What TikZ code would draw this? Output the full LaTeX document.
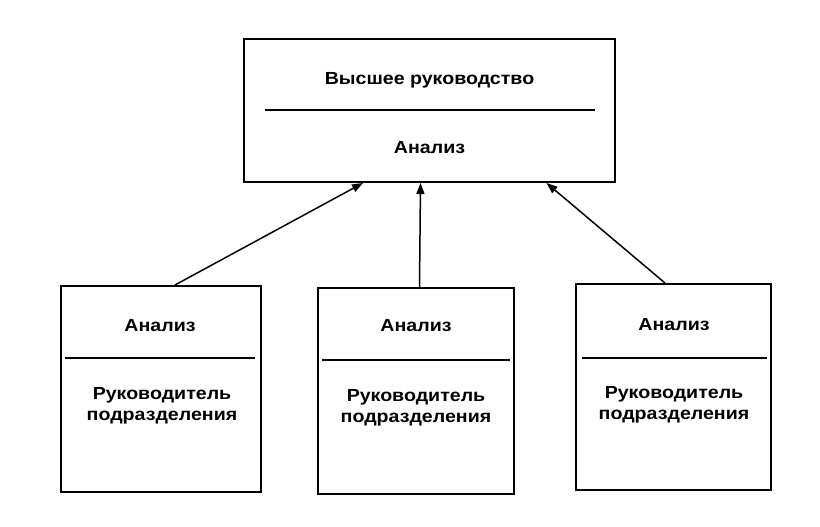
\documentclass[tikz,border=0pt]{standalone}
\usepackage{fontspec}
\setmainfont{Liberation Sans}[FakeStretch=1.12]
\usetikzlibrary{arrows.meta}

\tikzset{
  unitbox/.style={draw, line width=2pt, inner sep=0pt},
  boxtext/.style={font=\bfseries\fontsize{17.5}{20.7}\selectfont, align=center, inner sep=0pt},
  divider/.style={line width=2pt},
  report/.style={line width=1.5pt, -{Triangle[length=11pt,width=8pt]}}
}

\begin{document}
\begin{tikzpicture}[x=1pt, y=1pt]
  \useasboundingbox[fill=white] (0, 0) rectangle (820, 527);

  % upper box
  \node[unitbox, minimum width=371pt, minimum height=143pt] (top) at (429.5, 416.5) {};
  \node[boxtext] (topname) at (429.5, 447) {Высшее руководство};
  \node[boxtext] (topanalysis) at (429.5, 379) {Анализ};
  \draw[divider] (265, 417) -- (595, 417);

  % lower boxes
  \node[unitbox, minimum width=200pt, minimum height=206pt] (left) at (161, 138) {};
  \node[boxtext] (leftanalysis) at (160, 201.5) {Анализ};
  \node[boxtext] (leftname) at (162, 121) {Руководитель\\подразделения};
  \draw[divider] (65, 169) -- (255, 169);

  \node[unitbox, minimum width=196pt, minimum height=206pt] (mid) at (416, 136) {};
  \node[boxtext] (midanalysis) at (416, 201) {Анализ};
  \node[boxtext] (midname) at (416, 119) {Руководитель\\подразделения};
  \draw[divider] (322, 167) -- (510, 167);

  \node[unitbox, minimum width=195pt, minimum height=206pt] (right) at (673.5, 140) {};
  \node[boxtext] (rightanalysis) at (674, 202) {Анализ};
  \node[boxtext] (rightname) at (674, 122) {Руководитель\\подразделения};
  \draw[divider] (582, 169) -- (767, 169);

  % reports upwards
  \draw[report] ([xshift=14pt]left.north) -- ([xshift=-66.5pt]top.south);
  \draw[report] ([xshift=3.5pt]mid.north) -- ([xshift=-9pt]top.south);
  \draw[report] ([xshift=-8.5pt]right.north) -- ([xshift=117pt]top.south);
\end{tikzpicture}
\end{document}
